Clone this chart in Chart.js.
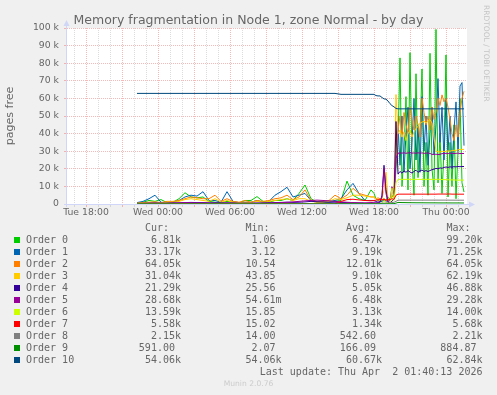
<!DOCTYPE html>
<html>
<head>
<meta charset="utf-8">
<title>Memory fragmentation in Node 1, zone Normal - by day</title>
<script src="https://cdn.jsdelivr.net/npm/chart.js@4.4.0/dist/chart.umd.min.js"></script>
<style>
  body { margin: 0; background: #f0f0f0; }
  #quadro { position: relative; width: 497px; height: 395px; overflow: hidden; color: #666; font-family: 'DejaVu Sans', sans-serif; }
  #grafico { position: absolute; left: 0; top: 0; }
  .titulo { position: absolute; left: 0; top: 12px; width: 497px; text-align: center; font-size: 12.5px; line-height: 15px; }
  .marca { position: absolute; left: 482px; top: 5px; writing-mode: vertical-rl; font-size: 7.5px; line-height: 9px; color: #c4c4c4; white-space: pre; }
  .munin { position: absolute; left: 0; width: 497px; top: 379px; text-align: center; font-size: 7.6px; line-height: 10px; color: #cccccc; }
  .leg { position: absolute; font-family: 'DejaVu Sans Mono', monospace; font-size: 10px; line-height: 12px; white-space: pre; color: #666; }
  .cor { position: absolute; width: 6px; height: 6px; }
</style>
</head>
<body>
<div id="quadro">
  <canvas id="grafico" width="497" height="230"></canvas>
  <div class="titulo">Memory fragmentation in Node 1, zone Normal - by day</div>
  <div class="marca">RRDTOOL / TOBI OETIKER</div>
  <div id="legenda"></div>
  <div class="munin">Munin 2.0.76</div>
</div>
<script>
// minutos desde Tue 18:00
const minutos = [255,285,315,345,375,405,435,465,495,525,555,585,615,645,675,705,735,765,795,825,
  855,885,915,945,975,1005,1035,1065,1095,1125,1155,1185,1215,1245,1275,1305,1335,1365,1395,1425,
  1440,1450,1460,1470,1480,1490,1500,1510,1520,1530,1540,1550,1560,1570,1580,1590,1600,1610,1620,1630,
  1640,1650,1660,1670,1680,1690,1700,1710,1720,1730,1740,1750,1760,1770,1780,1790,1800,1810,1820,1830,
  1840,1850,1860,1870,1880,1890];

// valores em milhares de paginas
const order0 = [0.5,1,2,1.5,2.5,0.8,1,3,6.4,4, 3.5,4,1.5,1,0.8,1.5,1,0.5,2,2, 4.2,1.5,1,2,2,3,2,6,10.8,3, 1,0.8,1,1.5,2,13,5,3,2,8,
  6,3,2,1.5,2,3,2,4,2,5, 3,20,35,83,10,30,61,8,86,25, 5,74,15,40,76.7,10,35,5,85.6,20, 8,99.2,12,40,6,30,84.7,4,35,10, 45,3,30,60,12,6.81];
const order1 = [0.8,1.5,3,5,1,0.5,0.8,2,4,5, 4.5,7,2,2,1,7,1.5,0.8,1,1, 2,1,1.5,5,7,9.5,4,5,6,2, 1,1,1.5,2,3,8,11.7,6,2,2,
  2,1.5,1,1.2,1.5,2,1.5,2,3,4, 5,30,45,22,50,18,40,55,20,35, 60,25,45,18,61,30,50,22,40,55, 28,45,71.25,35,55,25,60,30,50,20, 42,58,30,67,69,33.17];
const order2 = [0.5,0.8,1,1.2,0.8,1.5,1.5,2,3,4, 3.5,3,3,5,1.5,3,1.5,1,2,1, 2,1.5,2,3,3.5,5,2.5,4,8,2, 1.5,1.5,2,5,3,5,8.9,6,5,4,
  4,3,3.5,3,2.5,3,2,2.5,3,4, 5,25,42,50,38,52,45,40,55,48, 42,50,45,38,60,52,45,50,42,55, 48,52,60,56,62,58,60,55,48,40, 36,45,38,52,60,64.05];
const order3 = [0.3,0.5,0.8,1,0.5,1,1,1.5,2.5,3, 2.5,2,1.5,3,1,2,1,0.8,1,0.8, 1.5,1,1.5,2,2.5,3,2,3,3,1.5, 1,1,1.5,3,2.5,3.5,5,5,4.5,4,
  4,3,2.5,2,3,8,18,3,2,6, 10,62.19,40,42,38,41,36,40,42,38, 41,43,44,46,46.5,47,46,47,48,46, 38,30,29.7,29.5,30,29.8,30,30.2,30,30.3, 30.5,30.4,30.8,31,31,31.04];
const order4 = [0.3,0.4,0.5,0.6,0.5,0.5,0.6,0.7,0.8,0.9, 0.8,0.8,0.7,0.7,0.6,0.7,0.6,0.5,0.5,0.5, 0.6,0.6,0.7,0.8,0.9,1,0.9,1,1.2,1.5, 1.3,1.2,1,1,0.9,0.8,0.8,0.6,0.5,0.5,
  0.5,0.6,0.8,1,5,22,8,1,0.8,1.5, 3,46.88,17,18.5,17.5,18.8,18,19,18.2,17.6, 18.5,19.2,18,18.8,19.3,18.5,19,18.4,19,19.5, 19.8,20.2,20,20.5,20.3,20.8,21,20.8,21.1,21, 21.2,21.1,21.3,21.2,21.3,21.29];
const order5 = [0.2,0.3,0.4,0.4,0.3,0.3,0.5,0.6,0.8,0.7, 0.6,0.6,0.5,0.5,0.4,0.5,0.4,0.3,0.3,0.3, 0.4,0.4,0.5,0.6,0.8,1,1.2,1.5,1.8,2, 2.2,2,1.8,1.5,1.2,1,0.8,0.7,0.6,0.8,
  1,1.2,1,1.5,4,20,6,1,2,9.8, 3,26,28.8,29,28.9,29.1,28.8,29,29.2,28.9, 29,28.8,29.1,28.9,29,28.8,28.9,29,28.7,28.2, 28.2,28.3,28.1,28.2,28.6,28.7,28.8,28.7,28.9,28.8, 28.7,28.8,28.9,28.7,28.7,28.68];
const order6 = [0.2,0.1,0.1,0.1,0.1,0.1,0.1,0.1,0.2,0.2, 0.1,0.1,0.1,0.1,0.1,0.1,0.1,0.1,0.1,0.1, 0.1,0.1,0.1,0.1,0.1,0.1,0.1,0.1,0.2,0.1, 0.1,0.1,0.1,0.1,0.2,0.3,0.3,0.3,0.2,0.2,
  0.2,0.2,0.2,0.2,0.5,2,1,0.3,0.5,9, 2,12,14,14,14,14,14,14,14,14, 14,14,14,14,14,14,14,14,14,14, 14,14,14,14,13.9,13.9,13.8,13.8,13.7,13.7, 13.7,13.6,13.6,13.6,13.6,13.59];
const order7 = [0.05,0.05,0.05,0.05,0.05,0.05,0.05,0.05,0.05,0.05, 0.05,0.05,0.05,0.05,0.05,0.05,0.05,0.05,0.05,0.05, 0.05,0.05,0.05,0.05,0.05,0.05,0.05,0.05,0.05,0.05, 0.05,0.05,0.05,0.05,1.5,2.5,2.7,2.3,2,1.8,
  2,2.2,2.4,2.5,2.3,2.6,2.2,2.4,2.5,3, 2.6,5,5.6,5.6,5.6,5.6,5.6,5.6,5.6,5.6, 5.6,5.6,5.6,5.6,5.6,5.6,5.6,5.6,5.6,5.6, 5.6,5.6,5.65,5.65,5.65,5.65,5.65,5.68,5.68,5.6, 5.6,5.6,5.6,5.58,5.58,5.58];
const order8 = [0.02,0.02,0.02,0.02,0.02,0.02,0.02,0.02,0.02,0.02, 0.02,0.02,0.02,0.02,0.02,0.02,0.02,0.02,0.02,0.02, 0.02,0.02,0.02,0.02,0.02,0.02,0.02,0.02,0.02,0.02, 0.02,0.02,0.02,0.02,0.3,0.3,0.3,0.3,0.3,0.3,
  0.3,0.3,0.4,0.4,0.5,0.5,0.6,0.6,0.7,0.8, 1,1.5,2.2,2.2,2.2,2.2,2.2,2.2,2.2,2.2, 2.2,2.2,2.2,2.2,2.2,2.2,2.2,2.2,2.2,2.2, 2.21,2.21,2.2,2.2,2.2,2.2,2.2,2.2,2.18,2.18, 2.17,2.17,2.16,2.16,2.15,2.15];
const order9 = [0.01,0.01,0.01,0.01,0.01,0.01,0.01,0.01,0.01,0.01, 0.01,0.01,0.01,0.01,0.01,0.01,0.01,0.01,0.01,0.01, 0.02,0.02,0.02,0.02,0.02,0.02,0.02,0.02,0.02,0.02, 0.02,0.02,0.02,0.02,0.05,0.05,0.05,0.05,0.05,0.05,
  0.05,0.05,0.05,0.05,0.1,0.1,0.1,0.1,0.1,0.2, 0.2,0.5,0.88,0.85,0.8,0.8,0.78,0.75,0.75,0.72, 0.72,0.7,0.7,0.7,0.68,0.68,0.66,0.66,0.65,0.65, 0.64,0.64,0.63,0.63,0.62,0.62,0.62,0.61,0.61,0.6, 0.6,0.6,0.6,0.59,0.59,0.591];
const order10 = [62.84,62.84,62.84,62.84,62.84,62.84,62.84,62.84,62.84,62.84, 62.84,62.84,62.84,62.84,62.84,62.84,62.84,62.84,62.84,62.84, 62.84,62.84,62.84,62.84,62.84,62.84,62.84,62.84,62.84,62.84, 62.84,62.84,62.84,62.84,62.3,62.3,62.3,62.3,62.3,62.3,
  62.3,61.6,61.4,61.4,60.5,59.7,59.6,58.5,57,55.9, 55.2,54.3,54.06,54.06,54.06,54.06,54.06,54.06,54.06,54.06, 54.06,54.06,54.06,54.06,54.06,54.06,54.06,54.06,54.06,54.06, 54.06,54.06,54.06,54.06,54.06,54.06,54.06,54.06,54.06,54.06, 54.06,54.06,54.06,54.06,54.06,54.06];

const nomes = ['Order 0','Order 1','Order 2','Order 3','Order 4','Order 5','Order 6','Order 7','Order 8','Order 9','Order 10'];
const cores = ['#00CC00','#0066B3','#FF8000','#FFCC00','#330099','#990099','#CCFF00','#FF0000','#808080','#008F00','#00487D'];
const series = [order0,order1,order2,order3,order4,order5,order6,order7,order8,order9,order10];

const curVals = ['6.81k','33.17k','64.05k','31.04k','21.29k','28.68k','13.59k','5.58k','2.15k','591.00 ','54.06k'];
const minVals = ['1.06 ','3.12 ','10.54 ','43.85 ','25.56 ','54.61m','15.85 ','15.02 ','14.00 ','2.07 ','54.06k'];
const avgVals = ['6.47k','9.19k','12.01k','9.10k','5.05k','6.48k','3.13k','1.34k','542.60 ','166.09 ','60.67k'];
const maxVals = ['99.20k','71.25k','64.05k','62.19k','46.88k','29.28k','14.00k','5.68k','2.21k','884.87 ','62.84k'];

const xTickMin = [0,360,720,1080,1440,1800];
const xTickLabels = ['Tue 18:00','Wed 00:00','Wed 06:00','Wed 12:00','Wed 18:00','Thu 00:00'];

const GRADE = 'rgba(185,185,185,0.5)';
const GRADE_FORTE = 'rgba(235,130,130,0.55)';
const EIXO = '#CFD6F8';

Chart.defaults.font.family = "'DejaVu Sans', sans-serif";
Chart.defaults.color = '#666';

const moldura = {
  id: 'moldura',
  beforeDraw(chart) {
    const { ctx, chartArea: a } = chart;
    ctx.save();
    ctx.fillStyle = '#ffffff';
    ctx.fillRect(a.left, a.top, a.right - a.left, a.bottom - a.top);
    ctx.restore();
  },
  afterDraw(chart) {
    const { ctx, chartArea: a } = chart;
    ctx.save();
    ctx.strokeStyle = EIXO;
    ctx.fillStyle = EIXO;
    ctx.lineWidth = 1;
    ctx.beginPath();
    ctx.moveTo(a.left - 0.5, a.bottom + 3);
    ctx.lineTo(a.left - 0.5, a.top - 3);
    ctx.moveTo(a.left - 3, a.bottom + 0.5);
    ctx.lineTo(a.right + 3, a.bottom + 0.5);
    ctx.stroke();
    ctx.beginPath();
    ctx.moveTo(a.left - 0.5, a.top - 8);
    ctx.lineTo(a.left - 3.5, a.top - 2);
    ctx.lineTo(a.left + 2.5, a.top - 2);
    ctx.closePath();
    ctx.fill();
    ctx.beginPath();
    ctx.moveTo(a.right + 8, a.bottom + 0.5);
    ctx.lineTo(a.right + 2, a.bottom - 2.5);
    ctx.lineTo(a.right + 2, a.bottom + 3.5);
    ctx.closePath();
    ctx.fill();
    ctx.restore();
  }
};

const datasets = nomes.map((nome, i) => ({
  label: nome,
  data: minutos.map((m, k) => ({ x: m, y: series[i][k] })),
  borderColor: cores[i],
  backgroundColor: cores[i],
  borderWidth: 1,
  pointRadius: 0,
  tension: 0,
  fill: false,
  order: nomes.length - i
}));

const ctx = document.getElementById('grafico').getContext('2d');
new Chart(ctx, {
  type: 'line',
  data: { datasets: datasets },
  options: {
    responsive: false,
    animation: false,
    events: [],
    layout: { padding: { top: 28, right: 30, left: 0, bottom: 0 } },
    plugins: { legend: { display: false }, tooltip: { enabled: false } },
    scales: {
      x: {
        type: 'linear',
        min: -95,
        max: 1905,
        afterBuildTicks(scale) {
          const t = [];
          for (let m = -60; m <= 1860; m += 60) t.push({ value: m });
          scale.ticks = t;
        },
        afterFit(scale) { scale.height = 26; },
        ticks: {
          autoSkip: false,
          maxRotation: 0,
          padding: 0,
          font: { size: 9.3 },
          callback(v) {
            const k = xTickMin.indexOf(v);
            return k >= 0 ? xTickLabels[k] : '';
          }
        },
        grid: {
          color: (c) => (c.tick && c.tick.value % 180 === 0) ? GRADE_FORTE : GRADE,
          tickLength: 3,
          drawTicks: true
        },
        border: { display: false, dash: [1, 1] }
      },
      y: {
        min: 0,
        max: 100,
        afterBuildTicks(scale) {
          const t = [];
          for (let v = 0; v <= 100; v += 5) t.push({ value: v });
          scale.ticks = t;
        },
        afterFit(scale) { scale.width = 67; },
        title: {
          display: true,
          text: 'pages free',
          color: '#666',
          font: { size: 11 },
          padding: { top: 4, bottom: 0 }
        },
        ticks: {
          padding: 5,
          font: { size: 9.3 },
          callback(v) {
            if (v === 0) return '0';
            return v % 10 === 0 ? v + ' k' : '';
          }
        },
        grid: {
          color: (c) => {
            const v = c.tick ? c.tick.value : 0;
            if (v === 0) return 'rgba(0,0,0,0)';
            return v % 10 === 0 ? GRADE_FORTE : GRADE;
          },
          tickLength: 3,
          drawTicks: true
        },
        border: { display: false, dash: [1, 1] }
      }
    }
  },
  plugins: [moldura]
});

// legenda no estilo munin
const legenda = document.getElementById('legenda');
function bloco(texto, css) {
  const d = document.createElement('div');
  d.className = 'leg';
  d.textContent = texto;
  Object.assign(d.style, css);
  legenda.appendChild(d);
}
const colunas = [
  { titulo: 'Cur:', vals: curVals, fim: 181 },
  { titulo: 'Min:', vals: minVals, fim: 281.5 },
  { titulo: 'Avg:', vals: avgVals, fim: 382 },
  { titulo: 'Max:', vals: maxVals, fim: 482.5 }
];
colunas.forEach((c) => {
  bloco(c.titulo, { right: (497 - c.fim + 12) + 'px', top: '221.5px' });
});
nomes.forEach((nome, i) => {
  const topo = 233.7 + i * 12;
  const q = document.createElement('div');
  q.className = 'cor';
  q.style.left = '14px';
  q.style.top = (topo + 3.3) + 'px';
  q.style.background = cores[i];
  legenda.appendChild(q);
  bloco(nome, { left: '26px', top: topo + 'px' });
  colunas.forEach((c) => {
    bloco(c.vals[i], { right: (497 - c.fim) + 'px', top: topo + 'px' });
  });
});
bloco('Last update: Thu Apr  2 01:40:13 2026', { right: (497 - 482.5) + 'px', top: (233.7 + 11 * 12) + 'px' });
</script>
</body>
</html>
